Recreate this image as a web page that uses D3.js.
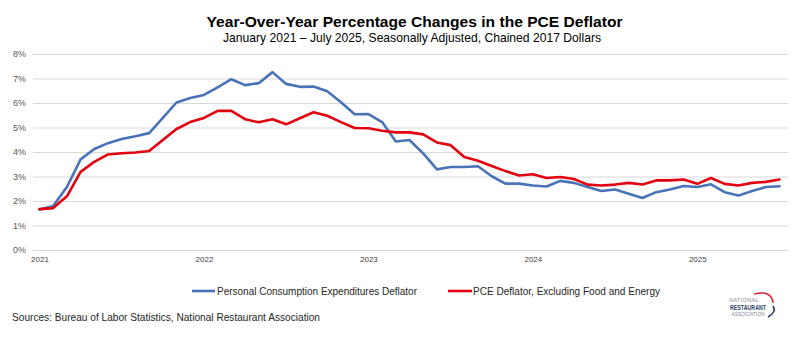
<!DOCTYPE html>
<html>
<head>
<meta charset="utf-8">
<script src="https://cdn.jsdelivr.net/npm/d3@7"></script>
<style>
  html, body { margin: 0; padding: 0; background: #fff; }
  svg { display: block; font-family: "Liberation Sans", Arial, sans-serif; }
</style>
</head>
<body>
<svg id="chart" width="799" height="339"></svg>
<script>
// Monthly observations, January 2021 through July 2025
const startYear = 2021;
const monthCount = 55;

// Year-over-year % change, headline PCE deflator
const pceHeadline = [
  1.65, 1.80, 2.57, 3.70, 4.12, 4.36, 4.53, 4.64, 4.77, 5.39, 6.02, 6.20,
  6.33, 6.64, 6.97, 6.73, 6.81, 7.26, 6.78, 6.66, 6.67, 6.48, 6.03, 5.54,
  5.55, 5.22, 4.43, 4.49, 3.94, 3.29, 3.39, 3.39, 3.42, 3.01, 2.71, 2.71,
  2.63, 2.59, 2.82, 2.74, 2.57, 2.41, 2.47, 2.30, 2.12, 2.36, 2.47, 2.61,
  2.57, 2.68, 2.36, 2.22, 2.41, 2.57, 2.60
];

// Year-over-year % change, PCE deflator excluding food and energy
const pceCore = [
  1.67, 1.71, 2.19, 3.19, 3.60, 3.90, 3.95, 3.98, 4.04, 4.49, 4.94, 5.22,
  5.39, 5.68, 5.68, 5.34, 5.21, 5.34, 5.13, 5.38, 5.62, 5.48, 5.22, 4.98,
  4.97, 4.87, 4.80, 4.80, 4.72, 4.39, 4.28, 3.80, 3.64, 3.43, 3.22, 3.04,
  3.09, 2.94, 2.98, 2.90, 2.67, 2.63, 2.67, 2.74, 2.67, 2.84, 2.84, 2.88,
  2.70, 2.94, 2.70, 2.63, 2.74, 2.78, 2.88
];

const yTicks = [0, 1, 2, 3, 4, 5, 6, 7, 8];
const yearLabels = ["2021", "2022", "2023", "2024", "2025"];

const seriesNames = [
  "Personal Consumption Expenditures Deflator",
  "PCE Deflator, Excluding Food and Energy"
];
const seriesColors = ["#4A72B8", "#E3000F"];

const titleText = "Year-Over-Year Percentage Changes in the PCE Deflator";
const subtitleText = "January 2021 \u2013 July 2025, Seasonally Adjusted, Chained 2017 Dollars";
const sourceText = "Sources: Bureau of Labor Statistics, National Restaurant Association";

const svg = d3.select("#chart");

// Scales
const x = d3.scaleLinear().domain([0, monthCount - 1]).range([39.5, 779.5]);
const y = d3.scaleLinear().domain([0, 8]).range([250, 54]);
const gridLeft = 33, gridRight = 788;

// Titles
svg.append("text")
  .attr("x", 414.5).attr("y", 26.5)
  .attr("text-anchor", "middle")
  .attr("font-size", 15.5).attr("font-weight", "bold").attr("fill", "#000")
  .attr("textLength", 416).attr("lengthAdjust", "spacingAndGlyphs")
  .text(titleText);

svg.append("text")
  .attr("x", 412).attr("y", 41.5)
  .attr("text-anchor", "middle")
  .attr("font-size", 13).attr("fill", "#000")
  .attr("textLength", 378).attr("lengthAdjust", "spacingAndGlyphs")
  .text(subtitleText);

// Horizontal gridlines and percent labels
const yAxis = d3.axisLeft(y)
  .tickValues(yTicks)
  .tickSize(-(gridRight - gridLeft))
  .tickPadding(7)
  .tickFormat(d => d + "%");

const gy = svg.append("g")
  .attr("transform", `translate(${gridLeft},0)`)
  .call(yAxis);
gy.select(".domain").remove();
gy.selectAll(".tick line").attr("stroke", "#D9D9D9").attr("stroke-width", 1);
gy.selectAll(".tick text")
  .attr("fill", "#595959").attr("font-size", 9)
  .attr("font-family", "Liberation Sans, Arial, sans-serif");

// Year labels at each January
const xAxis = d3.axisBottom(x)
  .tickValues(yearLabels.map((d, i) => i * 12))
  .tickSize(0)
  .tickPadding(6)
  .tickFormat((d, i) => yearLabels[i]);

const gx = svg.append("g")
  .attr("transform", `translate(0,${y(0)})`)
  .call(xAxis);
gx.select(".domain").remove();
gx.selectAll(".tick text")
  .attr("fill", "#404040").attr("font-size", 8)
  .attr("font-family", "Liberation Sans, Arial, sans-serif");

// Series lines
const line = d3.line()
  .x((d, i) => x(i))
  .y(d => y(d))
  .curve(d3.curveLinear);

[pceHeadline, pceCore].forEach((values, k) => {
  svg.append("path")
    .datum(values)
    .attr("fill", "none")
    .attr("stroke", seriesColors[k])
    .attr("stroke-width", 2.6)
    .attr("stroke-linejoin", "round")
    .attr("stroke-linecap", "round")
    .attr("d", line);
});

// Legend
const legendItems = [
  { x1: 192, x2: 215, tx: 217, width: 200 },
  { x1: 448, x2: 472, tx: 473, width: 187 }
];
const legendY = 291;
legendItems.forEach((item, k) => {
  svg.append("line")
    .attr("x1", item.x1).attr("x2", item.x2)
    .attr("y1", legendY).attr("y2", legendY)
    .attr("stroke", seriesColors[k]).attr("stroke-width", 2.6);
  svg.append("text")
    .attr("x", item.tx).attr("y", legendY + 3.5)
    .attr("font-size", 10).attr("fill", "#262626")
    .attr("textLength", item.width).attr("lengthAdjust", "spacingAndGlyphs")
    .text(seriesNames[k]);
});

// Source note
svg.append("text")
  .attr("x", 12).attr("y", 321)
  .attr("font-size", 10.5).attr("fill", "#262626")
  .attr("textLength", 308).attr("lengthAdjust", "spacingAndGlyphs")
  .text(sourceText);

// Association wordmark
const logo = svg.append("g");
logo.append("text")
  .attr("x", 744).attr("y", 302)
  .attr("text-anchor", "middle")
  .attr("font-size", 5.5).attr("fill", "#7F8797").attr("letter-spacing", 0.3)
  .text("NATIONAL");
logo.append("text")
  .attr("x", 748).attr("y", 310)
  .attr("text-anchor", "middle")
  .attr("font-size", 7.5).attr("font-weight", "bold").attr("fill", "#2D3F6B")
  .attr("textLength", 36).attr("lengthAdjust", "spacingAndGlyphs")
  .text("RESTAURANT");
logo.append("text")
  .attr("x", 748).attr("y", 316)
  .attr("text-anchor", "middle")
  .attr("font-size", 5.5).attr("fill", "#7F8797")
  .attr("textLength", 33).attr("lengthAdjust", "spacingAndGlyphs")
  .text("ASSOCIATION");
logo.append("path")
  .attr("d", "M 754 294 Q 772 290 773 303")
  .attr("fill", "none").attr("stroke", "#D7263D").attr("stroke-width", 1.6);
logo.append("path")
  .attr("d", "M 773 306 Q 777 312 768 317")
  .attr("fill", "none").attr("stroke", "#2D3F6B").attr("stroke-width", 1.6);
</script>
</body>
</html>
